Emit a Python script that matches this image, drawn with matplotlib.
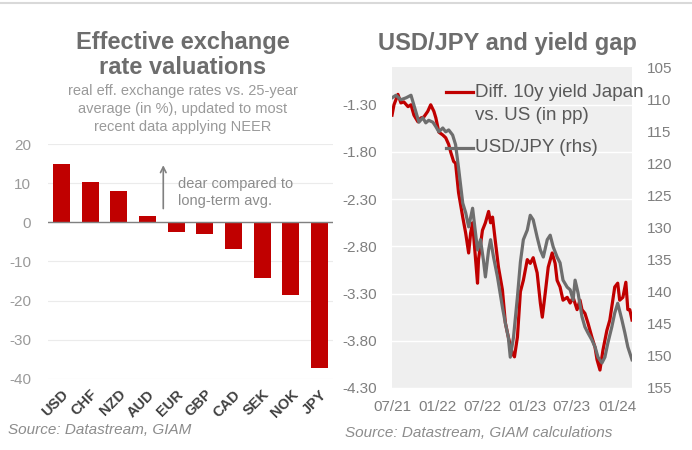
import numpy as np
import pandas as pd
import matplotlib
matplotlib.use("Agg")
from matplotlib import pyplot as plt
import matplotlib.dates as mdates
from matplotlib.lines import Line2D

plt.rcParams['font.family'] = ['Liberation Sans', 'DejaVu Sans']
plt.rcParams['axes.unicode_minus'] = False

# left panel: REER vs 25y average (in %)
currencies = ['USD', 'CHF', 'NZD', 'AUD', 'EUR', 'GBP', 'CAD', 'SEK', 'NOK', 'JPY']
valuation = [14.9, 10.4, 8.1, 1.6, -2.5, -3.1, -6.7, -14.3, -18.5, -37.1]

# right panel: 10y yield diff Japan vs US (pp), lhs
gap_dates = ['2021-07-01', '2021-07-09', '2021-07-25', '2021-08-06', '2021-08-18', '2021-09-04',
             '2021-09-16', '2021-09-28', '2021-10-14', '2021-10-26', '2021-11-07', '2021-11-23',
             '2021-12-05', '2021-12-18', '2021-12-26', '2022-01-07', '2022-01-23', '2022-02-04',
             '2022-02-16', '2022-02-24', '2022-03-08', '2022-03-16', '2022-03-28', '2022-04-14',
             '2022-04-26', '2022-05-08', '2022-05-16', '2022-05-24', '2022-06-13', '2022-06-17',
             '2022-07-03', '2022-07-15', '2022-07-28', '2022-08-05', '2022-08-13', '2022-08-25',
             '2022-09-06', '2022-09-22', '2022-10-04', '2022-10-16', '2022-11-01', '2022-11-10',
             '2022-11-22', '2022-12-04', '2022-12-16', '2023-01-01', '2023-01-13', '2023-01-25',
             '2023-02-10', '2023-02-23', '2023-03-03', '2023-03-15', '2023-03-27', '2023-04-12',
             '2023-04-24', '2023-05-02', '2023-05-14', '2023-05-26', '2023-06-12', '2023-06-24',
             '2023-07-06', '2023-07-22', '2023-08-03', '2023-08-11', '2023-08-23', '2023-09-04',
             '2023-09-20', '2023-10-03', '2023-10-11', '2023-10-23', '2023-11-04', '2023-11-20',
             '2023-12-02', '2023-12-14', '2023-12-22', '2024-01-03', '2024-01-11', '2024-01-24',
             '2024-02-05', '2024-02-13', '2024-02-21', '2024-03-01']
gap = [-1.41, -1.30, -1.19, -1.28, -1.27, -1.32,
       -1.30, -1.41, -1.48, -1.44, -1.43, -1.37,
       -1.30, -1.37, -1.44, -1.59, -1.62, -1.65,
       -1.72, -1.80, -1.90, -1.92, -2.23, -2.49,
       -2.66, -2.87, -2.66, -2.55, -3.19, -2.94,
       -2.63, -2.55, -2.43, -2.55, -2.49, -2.76,
       -3.02, -3.26, -3.61, -3.76, -3.93, -3.97,
       -3.76, -3.28, -3.16, -2.94, -2.98, -2.92,
       -3.08, -3.40, -3.55, -3.29, -3.02, -2.87,
       -2.98, -3.16, -3.23, -3.37, -3.34, -3.40,
       -3.34, -3.47, -3.37, -3.47, -3.51, -3.61,
       -3.76, -3.87, -4.00, -4.11, -3.90, -3.69,
       -3.58, -3.37, -3.23, -3.19, -3.37, -3.34,
       -3.18, -3.47, -3.47, -3.58]

# USD/JPY, rhs (inverted)
fx_dates = ['2021-07-01', '2021-07-17', '2021-08-06', '2021-08-27', '2021-09-16', '2021-10-06',
            '2021-10-18', '2021-11-03', '2021-11-15', '2021-11-27', '2021-12-14', '2021-12-26',
            '2022-01-07', '2022-01-23', '2022-02-04', '2022-02-16', '2022-03-04', '2022-03-16',
            '2022-03-28', '2022-04-14', '2022-04-26', '2022-05-08', '2022-05-24', '2022-06-13',
            '2022-06-25', '2022-07-07', '2022-07-15', '2022-07-28', '2022-08-05', '2022-08-17',
            '2022-09-02', '2022-09-22', '2022-10-04', '2022-10-16', '2022-10-24', '2022-11-06',
            '2022-11-22', '2022-12-04', '2022-12-16', '2023-01-01', '2023-01-13', '2023-01-25',
            '2023-02-10', '2023-02-23', '2023-03-07', '2023-03-23', '2023-04-04', '2023-04-16',
            '2023-05-02', '2023-05-14', '2023-05-26', '2023-06-12', '2023-06-24', '2023-07-06',
            '2023-07-14', '2023-07-26', '2023-08-11', '2023-08-23', '2023-09-04', '2023-09-20',
            '2023-10-03', '2023-10-15', '2023-10-31', '2023-11-12', '2023-11-24', '2023-12-10',
            '2023-12-22', '2024-01-03', '2024-01-20', '2024-02-01', '2024-02-13', '2024-03-01']
usdjpy = [109.8, 109.4, 110.1, 109.8, 109.4, 112.0,
          113.6, 112.9, 113.7, 113.3, 113.6, 114.3,
          115.1, 114.5, 115.1, 114.8, 115.6, 117.1,
          120.7, 126.2, 127.7, 129.9, 127.0, 133.5,
          131.9, 135.1, 137.7, 133.5, 131.9, 134.6,
          137.7, 142.4, 144.9, 147.1, 150.2, 147.1,
          140.8, 135.4, 131.9, 130.4, 128.1, 128.8,
          131.5, 133.5, 134.6, 131.9, 131.2, 133.0,
          134.6, 135.5, 138.2, 139.3, 139.7, 141.3,
          138.2, 140.2, 143.9, 145.5, 146.4, 147.5,
          148.6, 150.2, 151.1, 150.2, 148.0, 145.5,
          143.3, 141.8, 144.4, 146.4, 148.6, 150.6]

red = '#c00000'
grey = '#6e6e6e'
txt = '#7f7f7f'

fig = plt.figure(figsize=(6.92, 4.5), dpi=100)
fig.add_artist(Line2D([0, 1], [0.994, 0.994], color='#d9d9d9', lw=1.5))

# ---- left panel
ax1 = fig.add_axes([0.0694, 0.1578, 0.4118, 0.5222])
x = np.arange(len(currencies))
ax1.bar(x, valuation, width=0.6, color=red, zorder=3)
ax1.axhline(0, color='#808080', lw=1, zorder=4)
ax1.set_xlim(-0.47, 9.47)
ax1.set_ylim(-40, 20)
ax1.set_yticks(range(-40, 21, 10))
ax1.yaxis.grid(True, color='#ebebeb', lw=0.8)
ax1.set_axisbelow(True)
for s in ax1.spines.values():
    s.set_visible(False)
ax1.tick_params(axis='y', length=0, pad=12, labelsize=11, labelcolor='#9a9a9a')
ax1.set_xticks(x)
ax1.set_xticklabels(currencies, rotation=45, ha='right', rotation_mode='anchor',
                    fontsize=10.5, fontweight='bold', color='#404040')
ax1.tick_params(axis='x', length=0, pad=6)
ax1.annotate('', xy=(3.55, 15.3), xytext=(3.55, 2.8),
             arrowprops=dict(arrowstyle='->', color='#808080', lw=1.2))
ax1.text(4.05, 7.6, 'dear compared to\nlong-term avg.', fontsize=10.5, color='#8c8c8c',
         va='center', ha='left')

fig.text(0.264, 0.878, 'Effective exchange\nrate valuations', ha='center', va='center',
         fontsize=17, fontweight='bold', color='#6d6d6d', linespacing=1.15)
fig.text(0.264, 0.758, 'real eff. exchange rates vs. 25-year\naverage (in %), updated to most\n'
         'recent data applying NEER', ha='center', va='center', fontsize=10.5,
         color='#9a9a9a', linespacing=1.35)
fig.text(0.012, 0.045, 'Source: Datastream, GIAM', fontsize=11, style='italic',
         color='#8c8c8c', va='center')

# ---- right panel
ax = fig.add_axes([0.5665, 0.1378, 0.3468, 0.7133])
ax.set_facecolor('#efefef')
ax.plot(pd.to_datetime(gap_dates), gap, color=red, lw=2.3)
ax.set_ylim(-4.30, -0.90)
ax.set_yticks(np.arange(-4.30, -1.29, 0.5))
ax.yaxis.set_major_formatter(matplotlib.ticker.FormatStrFormatter('%.2f'))
ax.yaxis.grid(True, color='white', lw=1)
ax.set_axisbelow(True)
ax.set_xlim(pd.Timestamp('2021-07-01'), pd.Timestamp('2024-03-01'))
ax.set_xticks(pd.date_range('2021-07-01', '2024-01-01', freq='6MS'))
ax.xaxis.set_major_formatter(mdates.DateFormatter('%m/%y'))
ax.tick_params(length=0, labelsize=11, labelcolor=txt)
ax.tick_params(axis='y', pad=11)
ax.tick_params(axis='x', pad=9)

ax2 = ax.twinx()
ax2.plot(pd.to_datetime(fx_dates), usdjpy, color=grey, lw=2.3)
ax2.set_ylim(155, 105)
ax2.set_yticks(range(105, 156, 5))
ax2.tick_params(length=0, labelsize=11, labelcolor=txt, pad=11)
for a in (ax, ax2):
    for s in a.spines.values():
        s.set_visible(False)

# legend drawn by hand so the handle sits on the first label line
ax2.add_artist(Line2D([0.225, 0.3375], [0.922, 0.922], transform=ax2.transAxes, color=red, lw=2.3))
ax2.text(0.345, 0.922, 'Diff. 10y yield Japan', transform=ax2.transAxes, fontsize=13.5,
         color='#595959', va='center', clip_on=False)
ax2.text(0.345, 0.850, 'vs. US (in pp)', transform=ax2.transAxes, fontsize=13.5,
         color='#595959', va='center', clip_on=False)
ax2.add_artist(Line2D([0.225, 0.3375], [0.748, 0.748], transform=ax2.transAxes, color=grey, lw=2.3))
ax2.text(0.345, 0.748, 'USD/JPY (rhs)', transform=ax2.transAxes, fontsize=13.5,
         color='#595959', va='center', clip_on=False)

fig.text(0.734, 0.903, 'USD/JPY and yield gap', ha='center', va='center',
         fontsize=17, fontweight='bold', color='#6d6d6d')
fig.text(0.499, 0.038, 'Source: Datastream, GIAM calculations', fontsize=11, style='italic',
         color='#8c8c8c', va='center')

fig.savefig('out.png', dpi=100)
